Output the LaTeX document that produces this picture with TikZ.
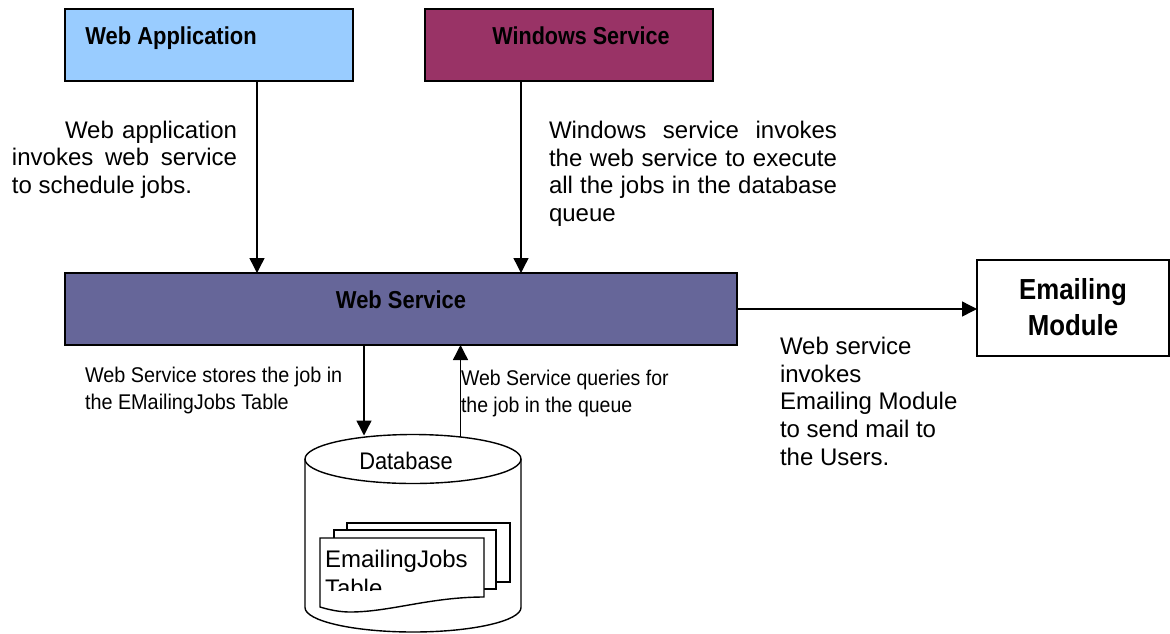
\documentclass[tikz,border=0pt]{standalone}
\usepackage{fontspec}
\setmainfont{Liberation Sans}
\usetikzlibrary{arrows.meta}
\definecolor{wacol}{HTML}{99CCFF}
\definecolor{wincol}{HTML}{993366}
\definecolor{wscol}{HTML}{666699}
\newcommand{\jl}[2]{\makebox[#1][s]{#2}}
\newcommand{\nar}[2]{\scalebox{#1}[1]{#2}}
\tikzset{
 x=1pt,y=-1pt,
 boxn/.style={draw=black,line width=1.6pt,anchor=north west,inner sep=0pt,outer sep=0pt},
 arr/.style={draw=black,line width=1.4pt,-{Triangle[length=15pt,width=15pt]}},
 lbl/.style={anchor=base west,inner sep=0pt,outer sep=0pt,font=\fontsize{24}{27}\selectfont},
 small/.style={anchor=base west,inner sep=0pt,outer sep=0pt,font=\fontsize{21.3}{24}\selectfont},
 title/.style={anchor=base,inner sep=0pt,outer sep=0pt,font=\fontsize{24.5}{27}\selectfont\bfseries},
 bigtitle/.style={title,font=\fontsize{29}{32}\selectfont\bfseries},
 shp/.style={draw=black,line width=1.4pt,fill=white,line join=miter},
}
\begin{document}
\begin{tikzpicture}
\useasboundingbox (0,0) rectangle (1170,633);
\node[boxn,fill=wacol,minimum width=288pt,minimum height=72pt] (wa) at (65,9) {};
\node[boxn,fill=wincol,minimum width=288pt,minimum height=72pt] (win) at (425,9) {};
\node[boxn,fill=wscol,minimum width=672pt,minimum height=72pt] (ws) at (65,273) {};
\node[boxn,fill=white,minimum width=192pt,minimum height=96pt] (em) at (977,260) {};
\node[title] (tw) at (171,44) {\nar{0.895}{Web Application}};
\node[title] (ti) at (581,44) {\nar{0.88}{Windows Service}};
\node[title] (ts) at (401,308.5) {\nar{0.895}{Web Service}};
\node[bigtitle] (te1) at (1073,299) {\nar{0.89}{Emailing}};
\node[bigtitle] (te2) at (1073,335) {\nar{0.89}{Module}};
% labels
\node[lbl] (a1) at (65,138) {\jl{172pt}{Web application}};
\node[lbl] (a2) at (12,165.5) {\jl{225pt}{invokes web service}};
\node[lbl] (a3) at (12,193) {to schedule jobs.};
\node[lbl] (b1) at (549,138) {\jl{288pt}{Windows service invokes}};
\node[lbl] (b2) at (549,166) {\jl{288pt}{the web service to execute}};
\node[lbl] (b3) at (549,193) {\jl{288pt}{all the jobs in the database}};
\node[lbl] (b4) at (549,221) {queue};
\node[small] (c1) at (85,382) {\nar{0.93}{Web Service stores the job in}};
\node[small] (c2) at (85,409) {\nar{0.93}{the EMailingJobs Table}};
\node[small] (d1) at (461,385) {\nar{0.915}{Web Service queries for}};
\node[small] (d2) at (461,412) {\nar{0.915}{the job in the queue}};
\node[lbl] (e1) at (780,354) {Web service};
\node[lbl] (e2) at (780,382) {invokes};
\node[lbl] (e3) at (780,409.5) {Emailing Module};
\node[lbl] (e4) at (780,437) {to send mail to};
\node[lbl] (e5) at (780,465) {the Users.};
% database
\node[inner sep=0pt,outer sep=0pt,minimum width=216pt,minimum height=198pt,anchor=north west] (db) at (305,434.5) {};
\draw[shp] (305,459) -- (305,607.5) .. controls (305,621) and (354,632) .. (413,632) .. controls (472,632) and (521,621) .. (521,607.5) -- (521,459);
\draw[shp] (413,459) ellipse [x radius=108,y radius=24.5];
\node[anchor=base,inner sep=0pt,font=\fontsize{24}{27}\selectfont] (dbt) at (406,469) {\nar{0.91}{Database}};
\node[shp,anchor=north west,minimum width=163pt,minimum height=59pt,inner sep=0pt,outer sep=0pt] (s1) at (347,523) {};
\node[shp,anchor=north west,minimum width=162pt,minimum height=59pt,inner sep=0pt,outer sep=0pt] (s2) at (334,530) {};
\draw[shp] (320,538) -- (484,538) -- (484,597) .. controls (430,597) and (390,612) .. (350,612) .. controls (340,612) and (330,610) .. (320,607) -- cycle;
\begin{scope}
\clip (322,540) rectangle (482,590);
\node[lbl] (f1) at (325,567) {EmailingJobs};
\node[lbl] (f2) at (325,596) {Table};
\end{scope}
% connectors
\coordinate (xa) at (257,0);
\coordinate (xb) at (521,0);
\coordinate (xc) at (364,0);
\coordinate (xd) at (460.5,0);
\coordinate (ye) at (0,309);
\coordinate (dbin) at (364,435.5);
\coordinate (dbout) at (460.5,437);
\draw[arr] (wa.south -| xa) -- (ws.north -| xa);
\draw[arr] (win.south -| xb) -- (ws.north -| xb);
\draw[arr] (ws.south -| xc) -- (dbin);
\draw[arr] (dbout) -- (ws.south -| xd);
\draw[arr] (ws.east |- ye) -- (em.west |- ye);
\end{tikzpicture}
\end{document}
